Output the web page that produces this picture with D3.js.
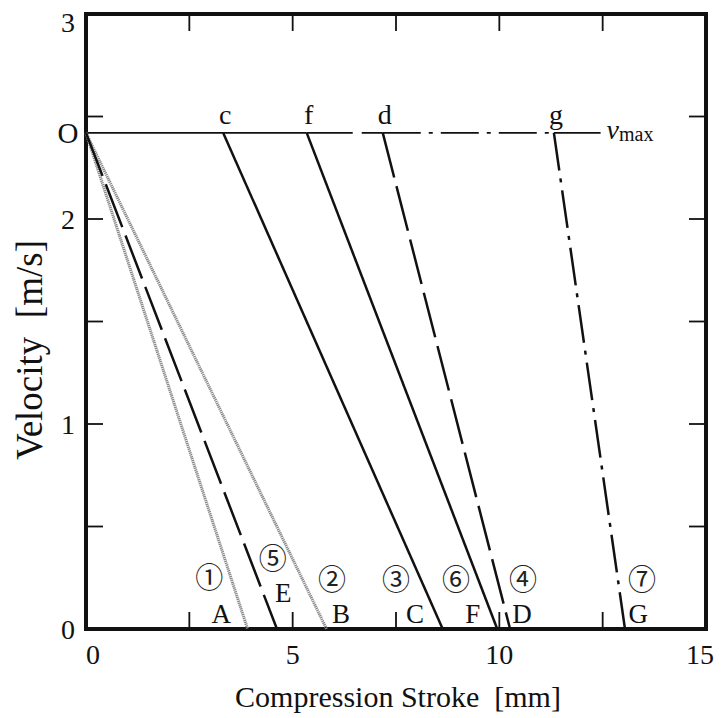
<!DOCTYPE html>
<html>
<head>
<meta charset="utf-8">
<script src="https://cdn.jsdelivr.net/npm/d3@7"></script>
<style>
  body { margin: 0; background: #fff; }
</style>
</head>
<body>
<svg id="chart" width="726" height="718" font-family="'Liberation Serif', 'Times New Roman', 'DejaVu Serif', serif"></svg>
<script>
// velocity at full stroke start [m/s]
var vmax = 2.42;

// curves: number, end letter, point on vmax line where braking starts, end stroke [mm]
var curveNum   = ["①", "②", "③", "④", "⑤", "⑥", "⑦"];
var curveEnd   = ["A", "B", "C", "D", "E", "F", "G"];
var curveTop   = ["O", "O", "c", "d", "O", "f", "g"];
var startX     = [0, 0, 3.32, 7.18, 0, 5.34, 11.32];
var endX       = [3.91, 5.82, 8.63, 10.26, 4.62, 9.95, 13.04];
var curveStyle = ["gray", "gray", "solid", "dash", "dash", "solid", "dashdot"];

// label anchors in data units (stroke mm, velocity m/s)
var endLabelX  = [3.27, 6.17, 7.96, 10.55, 4.77, 9.36, 13.36];
var endLabelY  = [0.08, 0.08, 0.08, 0.08, 0.18, 0.08, 0.08];
var numLabelX  = [2.98, 5.95, 7.50, 10.57, 4.52, 8.95, 13.45];
var numLabelY  = [0.26, 0.25, 0.25, 0.25, 0.35, 0.25, 0.25];

// horizontal vmax line pieces
var topSegX    = [[0, 5.34], [5.34, 7.18], [7.18, 11.32], [11.32, 12.45]];
var topSegSty  = ["solid", "dash", "dashdot", "solid"];

var xTicks = [0, 5, 10, 15];
var yTicks = [0, 1, 2, 3];
var xMinor = [2.5, 7.5, 12.5];
var yMinor = [0.5, 1.5, 2.5];

var svg = d3.select("#chart");
var x = d3.scaleLinear().domain([0, 15]).range([86, 706]);
var y = d3.scaleLinear().domain([0, 3]).range([629, 14]);

var styles = {
  gray:    { stroke: "#8a8a8a", width: 3, dash: "1.3,0.7" },
  solid:   { stroke: "#111", width: 2.5, dash: null },
  dash:    { stroke: "#111", width: 2.5, dash: "46,9" },
  dashdot: { stroke: "#111", width: 2.5, dash: "38,8,4,8" }
};

function styled(sel, s) {
  var st = styles[s];
  sel.attr("stroke", st.stroke).attr("stroke-width", st.width).attr("fill", "none");
  if (st.dash) sel.attr("stroke-dasharray", st.dash);
  return sel;
}

// ticks (inward on all four sides)
var tk = 17;
var g = svg.append("g").attr("stroke", "#111").attr("stroke-width", 1.8);
xTicks.concat(xMinor).forEach(function(t) {
  if (t == 0 || t == 15) return;
  g.append("line").attr("x1", x(t)).attr("x2", x(t)).attr("y1", y(0)).attr("y2", y(0) - tk);
  g.append("line").attr("x1", x(t)).attr("x2", x(t)).attr("y1", y(3)).attr("y2", y(3) + tk);
});
yTicks.concat(yMinor).forEach(function(t) {
  if (t == 0 || t == 3) return;
  g.append("line").attr("x1", x(0)).attr("x2", x(0) + tk).attr("y1", y(t)).attr("y2", y(t));
  g.append("line").attr("x1", x(15)).attr("x2", x(15) - tk).attr("y1", y(t)).attr("y2", y(t));
});

// frame
svg.append("rect")
  .attr("x", x(0)).attr("y", y(3))
  .attr("width", x(15) - x(0)).attr("height", y(0) - y(3))
  .attr("fill", "none").attr("stroke", "#111").attr("stroke-width", 4);

// tick labels
svg.selectAll(".xl").data(xTicks).enter().append("text")
  .attr("x", d => x(d) + (d == 0 ? 7 : d == 15 ? -6 : 0)).attr("y", 664)
  .attr("text-anchor", "middle").attr("font-size", 28).attr("fill", "#111").text(d => d);
svg.selectAll(".yl").data(yTicks).enter().append("text")
  .attr("x", 68).attr("y", d => Math.max(y(d) + 10, 32))
  .attr("text-anchor", "middle").attr("font-size", 28).attr("fill", "#111").text(d => d);

// axis titles
svg.append("text").attr("x", 398).attr("y", 707).attr("text-anchor", "middle")
  .attr("font-size", 30).attr("fill", "#111").attr("xml:space", "preserve")
  .text("Compression Stroke  [mm]");
svg.append("text").attr("transform", "translate(42,350) rotate(-90)")
  .attr("text-anchor", "middle").attr("font-size", 37).attr("fill", "#111")
  .attr("xml:space", "preserve").text("Velocity  [m/s]");

// vmax line
topSegX.forEach(function(s, i) {
  styled(svg.append("line"), topSegSty[i])
    .attr("stroke-width", 1.8)
    .attr("x1", x(s[0])).attr("x2", x(s[1]))
    .attr("y1", y(vmax)).attr("y2", y(vmax));
});

// curves
var line = d3.line().x(d => x(d[0])).y(d => y(d[1]));
curveNum.forEach(function(n, i) {
  styled(svg.append("path"), curveStyle[i])
    .attr("d", line([[startX[i], vmax], [endX[i], 0]]));
});

// top letters
curveTop.forEach(function(t, i) {
  if (t == "O") return;
  svg.append("text").attr("x", x(startX[i]) + 2).attr("y", y(vmax) - 9)
    .attr("text-anchor", "middle").attr("font-size", 28).attr("fill", "#111").text(t);
});
svg.append("text").attr("x", 68).attr("y", y(vmax) + 10)
  .attr("text-anchor", "middle").attr("font-size", 29).attr("fill", "#111").text("O");

// vmax label
var vt = svg.append("text").attr("x", x(12.45) + 6).attr("y", y(vmax) + 6).attr("fill", "#111");
vt.append("tspan").attr("font-style", "italic").attr("font-size", 28).text("v");
vt.append("tspan").attr("font-size", 20).attr("dy", 2).text("max");

// end letters and circled numbers
curveEnd.forEach(function(t, i) {
  svg.append("text").attr("x", x(endLabelX[i])).attr("y", y(endLabelY[i]) + 10)
    .attr("text-anchor", "middle").attr("font-size", 27).attr("fill", "#111").text(t);
  svg.append("text").attr("x", x(numLabelX[i])).attr("y", y(numLabelY[i]))
    .attr("dominant-baseline", "central")
    .attr("text-anchor", "middle").attr("font-size", 28).attr("fill", "#222")
    .attr("font-family", "'Noto Sans CJK JP'")
    .text(curveNum[i]);
});
</script>
</body>
</html>
